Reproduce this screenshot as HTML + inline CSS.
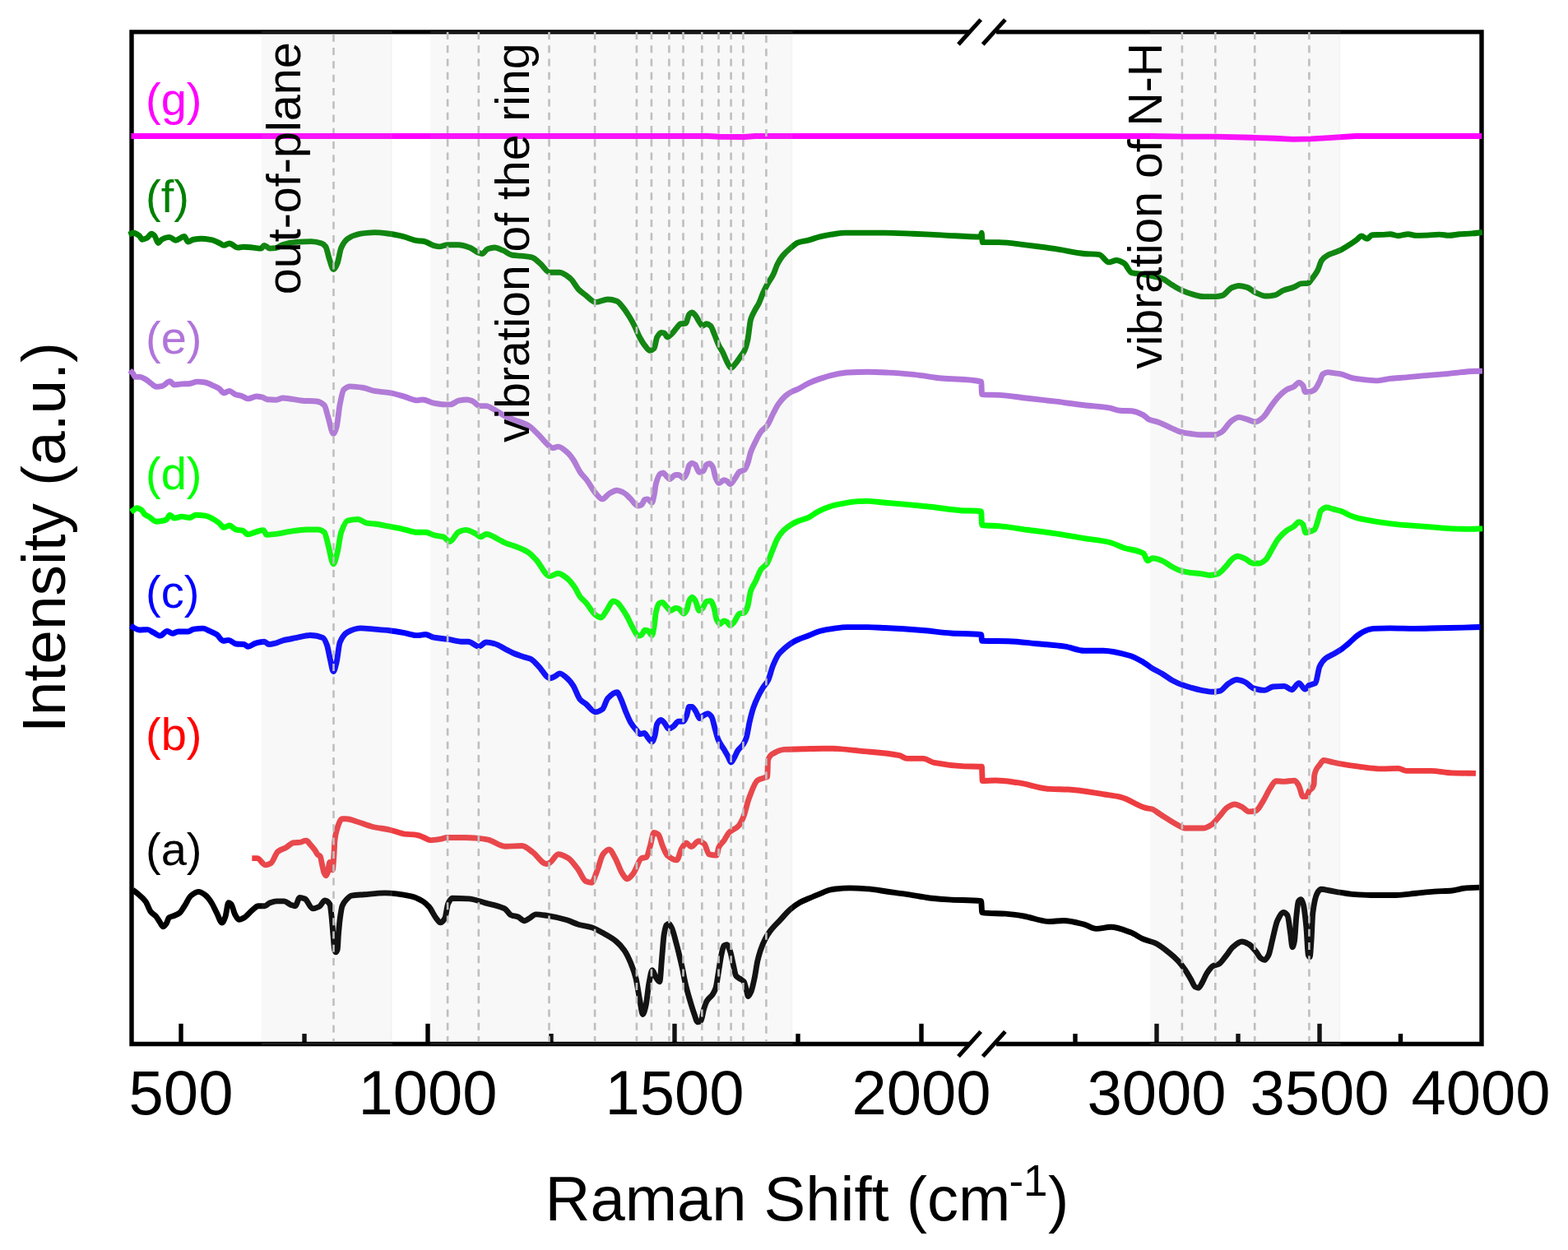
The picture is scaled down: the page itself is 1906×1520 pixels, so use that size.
<!DOCTYPE html><html><head><meta charset="utf-8"><title>Raman spectra</title><style>html,body{margin:0;padding:0;background:#fff;overflow:hidden}svg{display:block}</style></head><body>
<svg width="1906" height="1520" viewBox="0 0 1906 1520">
<rect width="1906" height="1520" fill="#fff"/>
<g stroke="#000" stroke-width="5.4" fill="none">
<polyline points="1179,1269.5 160,1269.5 160,38.9 1179,38.9"/>
<polyline points="1211,38.9 1801,38.9 1801,1269.5 1211,1269.5"/>
</g>
<g stroke="#000" stroke-width="5.4">
<line x1="220" y1="1269" x2="220" y2="1244.8"/>
<line x1="520" y1="1269" x2="520" y2="1244.8"/>
<line x1="820" y1="1269" x2="820" y2="1244.8"/>
<line x1="1120" y1="1269" x2="1120" y2="1244.8"/>
<line x1="1406" y1="1269" x2="1406" y2="1244.8"/>
<line x1="1604" y1="1269" x2="1604" y2="1244.8"/>
<line x1="370.0" y1="1269" x2="370.0" y2="1257"/>
<line x1="670.0" y1="1269" x2="670.0" y2="1257"/>
<line x1="970.0" y1="1269" x2="970.0" y2="1257"/>
<line x1="1307.0" y1="1269" x2="1307.0" y2="1257"/>
<line x1="1505.0" y1="1269" x2="1505.0" y2="1257"/>
<line x1="1702.5" y1="1269" x2="1702.5" y2="1257"/>
</g>
<g fill="none" stroke-width="6.9" stroke-linejoin="round" stroke-linecap="butt">
<path stroke="#008000" d="M156.42,285.11 C158.46,284.48 160.51,283.22 162.56,283.22 C164.76,283.22 166.96,284.89 169.17,286.53 C170.42,287.46 171.68,291.25 172.94,291.25 C174.83,291.25 176.72,290.28 178.61,289.36 C180.50,288.44 182.39,284.17 184.28,284.17 C185.54,284.17 186.79,285.64 188.05,287.00 C189.47,288.53 190.89,295.50 192.30,295.50 C193.72,295.50 195.14,291.95 196.55,291.25 C199.70,289.69 202.85,288.42 206.00,288.42 C208.52,288.42 211.03,292.19 213.55,292.19 C217.01,292.19 220.48,287.47 223.94,287.47 C225.51,287.47 227.09,294.08 228.66,294.08 C230.87,294.08 233.07,291.62 235.27,291.25 C238.42,290.72 241.57,290.30 244.72,290.30 C248.81,290.30 252.90,290.97 256.99,291.72 C260.14,292.30 263.29,294.09 266.44,295.50 C268.33,296.35 270.22,298.33 272.10,298.33 C274.31,298.33 276.51,295.97 278.71,295.97 C282.18,295.97 285.64,301.16 289.10,301.16 C291.62,301.16 294.14,300.22 296.66,300.22 C300.44,300.22 304.21,300.82 307.99,301.16 C311.14,301.45 314.29,302.11 317.43,302.11 C318.69,302.11 319.95,298.33 321.21,298.33 C323.42,298.33 325.62,302.11 327.82,302.11 C330.22,302.11 332.61,301.91 335.00,301.64 C337.96,301.30 340.92,298.40 343.88,297.54 C349.12,296.03 354.37,294.77 359.62,294.40 C365.91,293.95 372.21,293.61 378.50,293.61 C382.70,293.61 386.90,294.55 391.10,295.97 C392.67,296.50 394.24,297.81 395.82,299.91 C397.39,302.00 398.97,311.15 400.54,315.65 C402.11,320.14 403.69,327.45 405.26,327.45 C406.84,327.45 408.41,323.80 409.98,320.37 C411.56,316.93 413.13,304.88 414.71,301.48 C417.33,295.81 419.95,292.20 422.58,290.46 C427.82,286.98 433.07,284.97 438.32,284.17 C443.88,283.31 449.44,282.59 455.00,282.59 C461.19,282.59 467.39,283.49 473.58,284.27 C479.17,284.97 484.77,286.29 490.37,287.63 C495.96,288.97 501.56,291.87 507.16,292.67 C509.95,293.06 512.75,293.07 515.55,293.50 C519.47,294.12 523.39,297.51 527.30,298.54 C529.54,299.13 531.78,299.88 534.02,299.88 C537.38,299.88 540.73,297.70 544.09,297.70 C548.57,297.70 553.05,297.70 557.52,297.70 C562.00,297.70 566.48,299.46 570.95,301.06 C574.31,302.26 577.67,305.55 581.03,306.94 C582.71,307.63 584.39,308.61 586.07,308.61 C588.30,308.61 590.54,303.48 592.78,302.74 C595.58,301.81 598.38,301.06 601.18,301.06 C604.53,301.06 607.89,303.08 611.25,304.42 C615.17,305.98 619.08,309.74 623.00,310.29 C626.36,310.76 629.72,310.80 633.07,311.13 C637.55,311.58 642.03,311.82 646.51,312.81 C649.86,313.56 653.22,317.59 656.58,320.37 C660.50,323.61 664.41,331.28 668.33,331.28 C672.25,331.28 676.17,331.28 680.08,331.28 C684.56,331.28 689.04,335.22 693.52,338.84 C696.87,341.54 700.23,348.93 703.59,352.27 C706.39,355.04 709.19,356.86 711.98,358.98 C715.90,361.95 719.82,367.38 723.74,367.38 C728.77,367.38 733.81,364.02 738.85,364.02 C742.56,364.02 746.28,364.93 750.00,366.25 C752.08,366.99 754.17,370.07 756.25,372.50 C759.17,375.90 762.08,380.32 765.00,385.00 C767.08,388.34 769.17,392.12 771.25,396.25 C773.33,400.38 775.42,406.14 777.50,410.00 C779.58,413.86 781.67,417.44 783.75,420.00 C785.83,422.56 787.92,426.25 790.00,426.25 C791.67,426.25 793.33,425.27 795.00,423.75 C796.25,422.61 797.50,412.21 798.75,410.00 C800.42,407.06 802.08,404.38 803.75,404.38 C805.00,404.38 806.25,404.63 807.50,405.00 C808.75,405.37 810.00,410.00 811.25,410.00 C812.92,410.00 814.58,407.78 816.25,406.25 C818.33,404.34 820.42,401.02 822.50,398.75 C824.17,396.94 825.83,394.06 827.50,393.75 C829.58,393.36 831.67,393.56 833.75,393.12 C835.00,392.86 836.25,383.85 837.50,382.50 C838.75,381.15 840.00,380.00 841.25,380.00 C842.50,380.00 843.75,381.77 845.00,383.12 C846.67,384.93 848.33,388.82 850.00,391.25 C851.25,393.07 852.50,396.25 853.75,396.25 C855.42,396.25 857.08,393.75 858.75,393.75 C860.42,393.75 862.08,394.89 863.75,396.25 C865.42,397.61 867.08,403.55 868.75,407.50 C870.42,411.45 872.08,416.57 873.75,420.00 C875.42,423.43 877.08,425.47 878.75,428.75 C880.42,432.03 882.08,437.00 883.75,440.00 C885.42,443.00 887.08,447.50 888.75,447.50 C890.42,447.50 892.08,444.43 893.75,442.50 C895.83,440.08 897.92,436.77 900.00,433.75 C901.67,431.33 903.33,429.76 905.00,426.25 C906.25,423.62 907.50,419.31 908.75,413.75 C910.00,408.19 911.25,393.06 912.50,388.75 C914.17,383.01 915.83,380.78 917.50,377.50 C919.17,374.22 920.83,372.18 922.50,368.75 C924.17,365.32 925.83,359.95 927.50,356.25 C929.17,352.55 930.83,349.30 932.50,346.25 C935.00,341.68 937.50,338.82 940.00,333.75 C941.67,330.37 943.33,324.53 945.00,321.25 C947.08,317.15 949.17,313.85 951.25,311.25 C954.17,307.61 957.08,305.01 960.00,302.50 C963.33,299.63 966.67,296.20 970.00,295.00 C974.21,293.49 978.42,293.19 982.62,292.10 C987.23,290.90 991.83,289.06 996.44,287.96 C1001.04,286.85 1005.64,285.91 1010.25,285.19 C1015.77,284.34 1021.30,283.12 1026.82,283.12 C1032.35,283.12 1037.87,283.12 1043.40,283.12 C1047.27,283.12 1051.13,283.12 1055.00,283.12 C1061.81,283.12 1068.62,283.08 1075.42,283.08 C1086.97,283.08 1098.51,283.79 1110.05,284.24 C1121.59,284.69 1133.14,285.31 1144.68,285.86 C1160.53,286.61 1176.38,288.16 1192.24,288.16 C1192.54,288.16 1192.85,283.08 1193.16,283.08 C1193.54,283.08 1193.93,294.63 1194.31,294.63 C1200.85,294.63 1207.39,294.63 1213.93,294.63 C1225.48,294.63 1237.02,296.77 1248.56,298.09 C1260.10,299.41 1271.65,301.00 1283.19,302.71 C1294.73,304.42 1306.27,307.48 1317.82,308.48 C1323.97,309.01 1330.13,308.87 1336.29,309.63 C1340.13,310.11 1343.98,318.87 1347.83,318.87 C1350.91,318.87 1353.98,316.56 1357.06,316.56 C1360.14,316.56 1363.22,318.25 1366.30,320.02 C1369.37,321.80 1372.45,330.74 1375.53,331.56 C1380.35,332.85 1385.18,332.79 1390.00,333.59 C1394.20,334.28 1398.39,335.17 1402.59,336.11 C1405.95,336.86 1409.31,337.43 1412.67,338.63 C1416.86,340.12 1421.06,344.30 1425.26,346.81 C1429.03,349.07 1432.81,351.43 1436.59,353.11 C1441.21,355.15 1445.82,356.96 1450.44,358.14 C1454.64,359.22 1458.84,360.66 1463.03,360.66 C1468.07,360.66 1473.11,360.66 1478.14,360.66 C1480.66,360.66 1483.18,360.07 1485.70,359.40 C1489.48,358.40 1493.25,351.53 1497.03,349.96 C1499.97,348.73 1502.91,347.44 1505.84,347.44 C1509.20,347.44 1512.56,348.36 1515.92,349.33 C1519.28,350.30 1522.63,354.10 1525.99,355.62 C1530.19,357.53 1534.39,360.03 1538.58,360.03 C1542.36,360.03 1546.14,359.48 1549.92,358.77 C1553.27,358.14 1556.63,354.43 1559.99,353.11 C1564.19,351.44 1568.38,350.93 1572.58,349.33 C1575.52,348.21 1578.46,345.29 1581.40,344.92 C1584.33,344.55 1587.27,344.74 1590.21,344.29 C1591.47,344.10 1592.73,341.48 1593.99,339.88 C1596.51,336.70 1599.02,333.82 1601.54,329.18 C1603.22,326.09 1604.90,318.76 1606.58,316.59 C1609.10,313.33 1611.62,311.67 1614.13,310.29 C1616.09,309.22 1618.04,308.65 1620.00,307.85 C1623.32,306.49 1626.65,305.46 1629.97,303.86 C1633.29,302.27 1636.61,300.03 1639.94,297.88 C1643.26,295.73 1646.58,293.40 1649.91,290.90 C1651.57,289.65 1653.23,286.92 1654.89,286.92 C1657.22,286.92 1659.54,290.40 1661.87,290.40 C1663.86,290.40 1665.86,285.83 1667.85,285.72 C1671.84,285.50 1675.82,285.57 1679.81,285.42 C1683.13,285.30 1686.46,284.72 1689.78,284.72 C1693.10,284.72 1696.43,286.72 1699.75,286.72 C1703.74,286.72 1707.72,284.72 1711.71,284.72 C1715.03,284.72 1718.36,286.42 1721.68,286.42 C1726.00,286.42 1730.32,286.26 1734.64,286.12 C1739.62,285.95 1744.61,285.12 1749.59,285.12 C1753.58,285.12 1757.57,286.32 1761.55,286.32 C1765.87,286.32 1770.19,285.05 1774.51,284.72 C1779.50,284.35 1784.48,284.30 1789.46,283.92 C1793.62,283.61 1797.77,282.93 1801.93,282.43"/>
<path stroke="#b075da" d="M157.83,450.39 C159.09,451.65 160.35,452.64 161.61,454.17 C162.56,455.31 163.50,458.42 164.44,458.42 C166.33,458.42 168.22,458.42 170.11,458.42 C172.63,458.42 175.15,460.31 177.67,461.72 C179.55,462.78 181.44,464.66 183.33,465.97 C185.54,467.50 187.74,470.22 189.94,470.22 C192.46,470.22 194.98,469.79 197.50,469.28 C200.49,468.66 203.48,463.61 206.47,463.61 C208.20,463.61 209.93,467.86 211.66,467.86 C214.81,467.86 217.96,467.12 221.11,466.92 C224.25,466.71 227.40,466.71 230.55,466.44 C233.70,466.18 236.85,464.08 239.99,464.08 C243.14,464.08 246.29,464.52 249.44,465.03 C252.59,465.53 255.73,467.40 258.88,468.80 C261.40,469.93 263.92,470.93 266.44,472.58 C268.33,473.82 270.22,477.78 272.10,477.78 C274.31,477.78 276.51,475.41 278.71,475.41 C281.23,475.41 283.75,478.79 286.27,479.66 C288.79,480.54 291.31,480.75 293.82,481.55 C296.34,482.35 298.86,484.86 301.38,484.86 C304.84,484.86 308.31,482.03 311.77,482.03 C313.97,482.03 316.18,482.50 318.38,482.97 C320.58,483.44 322.79,485.60 324.99,485.80 C328.33,486.10 331.66,486.27 335.00,486.27 C337.96,486.27 340.92,484.07 343.88,484.07 C351.75,484.07 359.62,486.70 367.49,487.22 C373.26,487.60 379.03,487.48 384.80,488.01 C387.95,488.29 391.10,489.77 394.24,492.73 C395.82,494.21 397.39,502.73 398.97,507.68 C401.07,514.28 403.16,527.36 405.26,527.36 C406.57,527.36 407.89,523.06 409.20,518.70 C410.51,514.34 411.82,498.43 413.13,491.94 C414.71,484.16 416.28,475.33 417.85,473.84 C420.48,471.36 423.10,469.91 425.72,469.91 C430.97,469.91 436.22,470.69 441.46,471.48 C445.98,472.16 450.49,474.63 455.00,475.41 C461.19,476.48 467.39,476.62 473.58,477.63 C479.17,478.54 484.77,480.30 490.37,481.83 C495.96,483.35 501.56,486.86 507.16,486.86 C509.39,486.86 511.63,486.02 513.87,486.02 C518.35,486.02 522.83,489.42 527.30,490.22 C531.78,491.02 536.26,491.90 540.73,491.90 C542.97,491.90 545.21,491.90 547.45,491.90 C550.81,491.90 554.17,487.83 557.52,487.20 C560.88,486.57 564.24,486.02 567.60,486.02 C569.84,486.02 572.07,486.89 574.31,487.70 C577.11,488.72 579.91,493.58 582.71,493.58 C585.51,493.58 588.30,493.58 591.10,493.58 C594.46,493.58 597.82,496.52 601.18,498.28 C605.09,500.33 609.01,503.37 612.93,505.33 C616.85,507.29 620.76,508.74 624.68,510.37 C630.28,512.69 635.87,513.96 641.47,517.08 C645.39,519.27 649.30,523.45 653.22,527.16 C657.70,531.39 662.18,537.88 666.65,541.43 C668.33,542.76 670.01,544.78 671.69,544.78 C673.93,544.78 676.17,543.11 678.41,543.11 C682.32,543.11 686.24,547.24 690.16,550.66 C692.40,552.62 694.63,555.77 696.87,559.06 C699.67,563.16 702.47,570.14 705.27,574.17 C708.07,578.20 710.86,580.52 713.66,584.24 C717.02,588.70 720.38,595.60 723.74,599.35 C726.53,602.47 729.33,606.90 732.13,606.90 C734.93,606.90 737.73,601.73 740.52,600.19 C743.68,598.45 746.84,596.25 750.00,596.25 C752.50,596.25 755.00,597.56 757.50,598.75 C760.42,600.13 763.33,603.56 766.25,606.25 C769.17,608.94 772.08,615.00 775.00,615.00 C776.67,615.00 778.33,614.50 780.00,613.75 C781.25,613.19 782.50,607.88 783.75,607.50 C785.00,607.12 786.25,606.88 787.50,606.88 C789.17,606.88 790.83,611.25 792.50,611.25 C793.33,611.25 794.17,606.18 795.00,602.50 C795.83,598.82 796.67,590.37 797.50,587.50 C799.17,581.76 800.83,577.18 802.50,576.25 C803.75,575.55 805.00,575.00 806.25,575.00 C807.50,575.00 808.75,577.50 810.00,578.75 C811.25,580.00 812.50,582.50 813.75,582.50 C816.25,582.50 818.75,577.50 821.25,577.50 C822.50,577.50 823.75,577.50 825.00,577.50 C826.88,577.50 828.75,581.25 830.62,581.25 C832.08,581.25 833.54,578.08 835.00,575.00 C835.83,573.24 836.67,567.42 837.50,566.25 C838.75,564.50 840.00,563.12 841.25,563.12 C842.50,563.12 843.75,564.04 845.00,565.00 C846.67,566.28 848.33,574.38 850.00,574.38 C851.67,574.38 853.33,573.59 855.00,572.50 C856.25,571.68 857.50,565.71 858.75,565.00 C860.00,564.29 861.25,563.75 862.50,563.75 C863.75,563.75 865.00,565.54 866.25,567.50 C867.50,569.46 868.75,578.39 870.00,581.25 C871.25,584.11 872.50,587.50 873.75,587.50 C875.83,587.50 877.92,583.75 880.00,583.75 C881.25,583.75 882.50,584.38 883.75,585.00 C885.00,585.62 886.25,588.75 887.50,588.75 C889.58,588.75 891.67,584.04 893.75,581.25 C895.42,579.02 897.08,574.83 898.75,573.75 C900.83,572.41 902.92,572.72 905.00,571.25 C906.25,570.37 907.50,566.99 908.75,563.75 C910.00,560.51 911.25,553.53 912.50,550.00 C914.17,545.30 915.83,542.14 917.50,538.75 C920.00,533.66 922.50,528.24 925.00,525.00 C927.50,521.76 930.00,520.83 932.50,517.50 C935.00,514.17 937.50,507.23 940.00,502.50 C942.08,498.56 944.17,494.20 946.25,491.25 C949.17,487.12 952.08,483.69 955.00,481.25 C957.50,479.16 960.00,477.53 962.50,476.25 C965.00,474.97 967.50,474.30 970.00,473.12 C974.21,471.15 978.42,468.09 982.62,466.13 C987.23,463.99 991.83,462.17 996.44,460.61 C1001.96,458.74 1007.49,456.95 1013.01,455.77 C1018.54,454.60 1024.06,453.28 1029.59,453.01 C1038.06,452.59 1046.53,452.32 1055.00,452.32 C1063.35,452.32 1071.69,452.72 1080.04,453.08 C1090.05,453.52 1100.05,454.42 1110.05,455.39 C1121.59,456.51 1133.14,458.78 1144.68,460.01 C1160.69,461.71 1176.69,460.13 1192.70,464.17 C1193.00,464.24 1193.31,479.60 1193.62,479.63 C1200.39,480.29 1207.16,479.99 1213.93,480.33 C1225.48,480.90 1237.02,482.94 1248.56,484.25 C1260.10,485.56 1271.65,486.76 1283.19,488.17 C1294.73,489.59 1306.27,491.48 1317.82,492.79 C1327.82,493.93 1337.82,494.28 1347.83,495.79 C1352.44,496.49 1357.06,498.98 1361.68,499.25 C1366.30,499.53 1370.91,499.44 1375.53,499.72 C1380.35,500.01 1385.18,502.35 1390.00,504.85 C1392.10,505.93 1394.20,508.92 1396.30,509.88 C1400.49,511.81 1404.69,512.15 1408.89,513.66 C1413.92,515.48 1418.96,518.44 1424.00,520.59 C1428.20,522.38 1432.39,524.64 1436.59,525.62 C1440.37,526.51 1444.14,527.04 1447.92,527.51 C1452.12,528.04 1456.32,528.77 1460.51,528.77 C1465.97,528.77 1471.43,528.77 1476.88,528.77 C1479.40,528.77 1481.92,527.09 1484.44,525.62 C1488.64,523.18 1492.83,514.60 1497.03,511.77 C1499.97,509.80 1502.91,507.37 1505.84,507.37 C1509.20,507.37 1512.56,508.95 1515.92,509.88 C1519.28,510.82 1522.63,513.03 1525.99,513.03 C1529.35,513.03 1532.71,509.68 1536.07,506.74 C1539.00,504.16 1541.94,498.12 1544.88,494.14 C1547.82,490.17 1550.76,485.88 1553.69,482.81 C1557.05,479.30 1560.41,475.92 1563.77,474.00 C1566.71,472.32 1569.64,471.89 1572.58,470.22 C1574.68,469.03 1576.78,465.18 1578.88,465.18 C1580.56,465.18 1582.24,466.80 1583.91,468.96 C1584.75,470.04 1585.59,476.52 1586.43,476.52 C1588.11,476.52 1589.79,476.52 1591.47,476.52 C1593.57,476.52 1595.67,475.34 1597.76,474.00 C1599.86,472.65 1601.96,467.97 1604.06,463.92 C1605.32,461.50 1606.58,456.02 1607.84,455.11 C1609.94,453.59 1612.04,452.59 1614.13,452.59 C1616.09,452.59 1618.04,453.14 1620.00,453.43 C1623.32,453.91 1626.65,454.25 1629.97,454.92 C1634.95,455.93 1639.94,458.96 1644.92,459.91 C1649.91,460.85 1654.89,461.42 1659.87,461.90 C1664.19,462.32 1668.51,462.90 1672.83,462.90 C1678.48,462.90 1684.13,460.97 1689.78,460.40 C1696.43,459.74 1703.07,459.48 1709.72,458.91 C1716.36,458.34 1723.01,457.48 1729.65,456.92 C1736.30,456.35 1742.95,455.99 1749.59,455.42 C1756.24,454.85 1762.88,454.09 1769.53,453.43 C1776.17,452.76 1782.82,451.68 1789.46,451.43 C1793.62,451.28 1797.77,451.23 1801.93,451.13"/>
<path stroke="#00ff00" d="M159.25,622.47 C160.35,621.68 161.45,620.85 162.56,620.11 C163.81,619.27 165.07,617.75 166.33,617.75 C168.22,617.75 170.11,618.86 172.00,620.11 C173.26,620.95 174.52,624.24 175.78,625.30 C177.67,626.89 179.55,627.44 181.44,628.61 C184.28,630.36 187.11,634.28 189.94,634.28 C192.46,634.28 194.98,633.79 197.50,633.33 C199.07,633.04 200.65,632.69 202.22,631.92 C203.64,631.21 205.05,626.25 206.47,626.25 C208.20,626.25 209.93,630.03 211.66,630.03 C214.81,630.03 217.96,628.14 221.11,628.14 C224.25,628.14 227.40,629.55 230.55,629.55 C233.07,629.55 235.59,626.25 238.11,626.25 C241.88,626.25 245.66,626.66 249.44,627.19 C252.59,627.64 255.73,629.36 258.88,630.97 C261.40,632.26 263.92,634.17 266.44,636.16 C268.33,637.66 270.22,641.36 272.10,641.36 C274.31,641.36 276.51,639.00 278.71,639.00 C281.55,639.00 284.38,643.61 287.21,644.19 C289.73,644.71 292.25,644.59 294.77,645.14 C296.97,645.61 299.18,649.86 301.38,649.86 C304.84,649.86 308.31,647.45 311.77,646.55 C314.60,645.82 317.43,644.66 320.27,644.66 C321.53,644.66 322.79,650.33 324.05,650.33 C327.70,650.33 331.35,649.80 335.00,649.39 C340.58,648.75 346.16,647.22 351.75,646.43 C358.57,645.47 365.39,644.07 372.21,644.07 C376.93,644.07 381.65,644.07 386.37,644.07 C389.00,644.07 391.62,645.21 394.24,647.22 C395.82,648.42 397.39,657.50 398.97,662.96 C401.07,670.23 403.16,685.78 405.26,685.78 C406.84,685.78 408.41,678.23 409.98,672.40 C411.56,666.58 413.13,651.64 414.71,647.22 C417.33,639.85 419.95,633.71 422.58,633.05 C426.77,632.00 430.97,631.48 435.17,631.48 C438.84,631.48 442.51,635.67 446.19,636.20 C449.12,636.63 452.06,636.65 455.00,636.99 C461.19,637.69 467.39,639.07 473.58,640.22 C479.17,641.26 484.77,642.41 490.37,643.58 C495.96,644.75 501.56,647.27 507.16,647.27 C510.51,647.27 513.87,647.27 517.23,647.27 C521.15,647.27 525.06,650.27 528.98,651.13 C532.34,651.87 535.70,651.86 539.06,652.81 C541.57,653.53 544.09,658.69 546.61,658.69 C550.25,658.69 553.89,648.60 557.52,646.94 C560.32,645.65 563.12,644.42 565.92,644.42 C569.84,644.42 573.75,646.79 577.67,648.61 C579.91,649.66 582.15,652.81 584.39,652.81 C586.62,652.81 588.86,649.45 591.10,649.45 C596.70,649.45 602.29,654.34 607.89,657.01 C610.13,658.08 612.37,659.46 614.61,660.37 C617.96,661.73 621.32,662.45 624.68,663.73 C630.28,665.84 635.87,667.80 641.47,671.28 C644.83,673.37 648.18,677.06 651.54,680.51 C657.14,686.27 662.74,700.66 668.33,700.66 C671.69,700.66 675.05,697.30 678.41,697.30 C682.32,697.30 686.24,700.93 690.16,704.02 C692.96,706.23 695.75,710.08 698.55,714.09 C700.79,717.30 703.03,723.00 705.27,725.84 C707.51,728.69 709.74,730.07 711.98,732.56 C715.90,736.92 719.82,744.96 723.74,747.67 C725.97,749.22 728.21,751.03 730.45,751.03 C732.69,751.03 734.93,745.58 737.17,742.63 C739.97,738.95 742.76,730.88 745.56,730.88 C747.04,730.88 748.52,731.70 750.00,732.50 C752.08,733.63 754.17,737.14 756.25,740.00 C758.33,742.86 760.42,746.30 762.50,750.00 C764.58,753.70 766.67,759.03 768.75,762.50 C771.25,766.67 773.75,773.12 776.25,773.12 C777.50,773.12 778.75,772.56 780.00,771.88 C781.25,771.19 782.50,766.25 783.75,766.25 C785.00,766.25 786.25,766.52 787.50,766.88 C789.17,767.34 790.83,772.50 792.50,772.50 C793.33,772.50 794.17,766.85 795.00,762.50 C795.83,758.15 796.67,747.14 797.50,743.75 C798.75,738.67 800.00,734.49 801.25,733.75 C802.50,733.01 803.75,732.50 805.00,732.50 C806.67,732.50 808.33,735.83 810.00,737.50 C811.67,739.17 813.33,742.50 815.00,742.50 C817.08,742.50 819.17,739.38 821.25,739.38 C822.50,739.38 823.75,739.66 825.00,740.00 C827.08,740.56 829.17,746.25 831.25,746.25 C832.50,746.25 833.75,743.84 835.00,741.25 C835.83,739.53 836.67,732.97 837.50,731.25 C838.75,728.66 840.00,726.25 841.25,726.25 C842.50,726.25 843.75,728.25 845.00,730.00 C846.67,732.33 848.33,742.50 850.00,742.50 C851.25,742.50 852.50,741.18 853.75,740.00 C855.42,738.42 857.08,731.64 858.75,731.25 C860.42,730.86 862.08,730.62 863.75,730.62 C865.00,730.62 866.25,734.28 867.50,737.50 C868.75,740.72 870.00,751.20 871.25,753.75 C872.50,756.30 873.75,758.75 875.00,758.75 C876.67,758.75 878.33,755.00 880.00,755.00 C881.25,755.00 882.50,755.60 883.75,756.25 C885.00,756.90 886.25,760.62 887.50,760.62 C889.17,760.62 890.83,758.12 892.50,756.25 C894.58,753.92 896.67,746.99 898.75,746.25 C900.83,745.51 902.92,745.81 905.00,745.00 C906.25,744.51 907.50,741.07 908.75,737.50 C910.00,733.93 911.25,722.45 912.50,718.75 C914.58,712.58 916.67,710.62 918.75,706.25 C920.83,701.88 922.92,695.40 925.00,692.50 C927.50,689.02 930.00,688.57 932.50,685.00 C934.58,682.02 936.67,675.00 938.75,670.00 C940.83,665.00 942.92,658.60 945.00,655.00 C947.50,650.68 950.00,647.43 952.50,645.00 C955.83,641.76 959.17,639.48 962.50,637.50 C965.00,636.01 967.50,634.79 970.00,633.75 C974.21,632.00 978.42,631.26 982.62,629.36 C986.31,627.71 989.99,624.33 993.67,622.46 C999.20,619.66 1004.72,617.17 1010.25,615.55 C1015.77,613.94 1021.30,612.75 1026.82,611.82 C1032.35,610.90 1037.87,609.83 1043.40,609.61 C1047.27,609.46 1051.13,609.34 1055.00,609.34 C1060.27,609.34 1065.54,610.32 1070.81,610.78 C1080.04,611.58 1089.28,612.25 1098.51,613.08 C1110.05,614.13 1121.59,615.29 1133.14,616.55 C1144.68,617.81 1156.22,619.95 1167.76,620.70 C1176.08,621.25 1184.39,620.75 1192.70,621.86 C1193.00,621.90 1193.31,638.43 1193.62,638.48 C1200.39,639.58 1207.16,639.11 1213.93,639.63 C1225.48,640.52 1237.02,642.71 1248.56,644.25 C1260.10,645.79 1271.65,647.16 1283.19,648.87 C1294.73,650.58 1306.27,652.79 1317.82,654.64 C1327.82,656.24 1337.82,657.00 1347.83,659.25 C1353.98,660.64 1360.14,664.16 1366.30,666.18 C1374.20,668.77 1382.10,668.39 1390.00,673.03 C1391.68,674.02 1393.36,681.85 1395.04,681.85 C1397.14,681.85 1399.23,678.70 1401.33,678.70 C1405.11,678.70 1408.89,680.40 1412.67,681.85 C1416.44,683.29 1420.22,686.81 1424.00,688.77 C1428.20,690.95 1432.39,693.34 1436.59,694.44 C1439.95,695.31 1443.31,695.88 1446.66,696.33 C1450.86,696.88 1455.06,697.06 1459.25,697.59 C1463.03,698.06 1466.81,699.48 1470.59,699.48 C1473.95,699.48 1477.30,698.64 1480.66,697.59 C1484.02,696.54 1487.38,691.65 1490.73,688.14 C1493.25,685.51 1495.77,681.07 1498.29,679.33 C1500.39,677.88 1502.49,676.18 1504.59,676.18 C1507.52,676.18 1510.46,678.05 1513.40,679.33 C1516.76,680.79 1520.12,684.99 1523.47,684.99 C1525.99,684.99 1528.51,684.99 1531.03,684.99 C1533.55,684.99 1536.07,682.76 1538.58,680.59 C1541.10,678.41 1543.62,672.19 1546.14,668.00 C1548.66,663.80 1551.18,658.59 1553.69,655.40 C1557.05,651.16 1560.41,647.76 1563.77,645.33 C1566.71,643.21 1569.64,642.37 1572.58,640.29 C1574.68,638.81 1576.78,634.63 1578.88,634.63 C1580.56,634.63 1582.24,635.92 1583.91,637.78 C1584.96,638.93 1586.01,647.85 1587.06,647.85 C1588.53,647.85 1590.00,647.07 1591.47,646.59 C1593.57,645.90 1595.67,645.58 1597.76,644.07 C1599.44,642.87 1601.12,635.46 1602.80,630.22 C1603.64,627.60 1604.48,622.36 1605.32,621.41 C1607.84,618.55 1610.36,617.00 1612.88,617.00 C1615.25,617.00 1617.63,618.32 1620.00,618.94 C1623.32,619.81 1626.65,620.32 1629.97,621.43 C1633.29,622.54 1636.61,625.05 1639.94,626.42 C1643.26,627.78 1646.58,629.04 1649.91,629.91 C1654.89,631.20 1659.87,631.99 1664.86,632.90 C1669.84,633.80 1674.83,634.67 1679.81,635.39 C1686.46,636.34 1693.10,637.26 1699.75,637.88 C1706.39,638.50 1713.04,638.88 1719.69,639.38 C1726.33,639.87 1732.98,640.36 1739.62,640.87 C1747.93,641.51 1756.24,642.55 1764.54,642.86 C1771.19,643.11 1777.83,643.36 1784.48,643.36 C1790.40,643.36 1796.31,643.03 1802.22,642.86"/>
<path stroke="#0000ff" d="M158.78,760.86 C160.04,761.65 161.30,762.57 162.56,763.22 C164.76,764.36 166.96,766.05 169.17,766.05 C172.63,766.05 176.09,765.58 179.55,765.58 C181.76,765.58 183.96,767.79 186.16,768.89 C189.00,770.30 191.83,773.14 194.66,773.14 C197.50,773.14 200.33,767.47 203.16,767.47 C205.37,767.47 207.57,770.30 209.77,770.30 C211.98,770.30 214.18,767.94 216.39,767.94 C220.48,767.94 224.57,767.94 228.66,767.94 C230.87,767.94 233.07,765.44 235.27,765.11 C239.05,764.55 242.83,764.17 246.61,764.17 C249.12,764.17 251.64,765.93 254.16,767.00 C257.31,768.34 260.46,769.60 263.60,771.72 C266.12,773.42 268.64,779.28 271.16,779.28 C273.36,779.28 275.57,778.33 277.77,778.33 C280.92,778.33 284.07,782.77 287.21,783.05 C290.36,783.34 293.51,783.20 296.66,783.53 C298.23,783.69 299.81,786.36 301.38,786.36 C304.53,786.36 307.68,782.93 310.82,782.11 C314.29,781.21 317.75,780.22 321.21,780.22 C323.10,780.22 324.99,783.53 326.88,783.53 C329.59,783.53 332.29,782.75 335.00,782.11 C337.96,781.41 340.92,779.63 343.88,778.84 C349.12,777.44 354.37,776.69 359.62,775.69 C365.39,774.59 371.16,772.54 376.93,772.54 C382.18,772.54 387.42,773.48 392.67,775.69 C394.24,776.36 395.82,780.22 397.39,784.35 C398.70,787.79 400.02,796.31 401.33,801.66 C402.64,807.01 403.95,816.62 405.26,816.62 C406.57,816.62 407.89,810.06 409.20,804.81 C410.51,799.56 411.82,784.34 413.13,781.20 C416.28,773.68 419.43,770.24 422.58,768.61 C427.82,765.90 433.07,763.89 438.32,763.89 C443.88,763.89 449.44,764.69 455.00,765.15 C461.19,765.65 467.39,766.10 473.58,766.79 C479.17,767.41 484.77,768.35 490.37,769.31 C495.96,770.27 501.56,772.67 507.16,772.67 C510.51,772.67 513.87,771.49 517.23,771.49 C520.59,771.49 523.95,774.55 527.30,775.18 C532.90,776.24 538.50,776.43 544.09,777.20 C550.25,778.05 556.40,780.22 562.56,780.22 C564.80,780.22 567.04,780.22 569.28,780.22 C573.47,780.22 577.67,786.10 581.87,786.10 C584.95,786.10 588.02,781.06 591.10,781.06 C594.46,781.06 597.82,781.93 601.18,782.74 C606.21,783.96 611.25,787.78 616.29,790.29 C619.08,791.69 621.88,793.31 624.68,794.49 C628.60,796.14 632.51,797.42 636.43,798.69 C639.23,799.60 642.03,799.96 644.83,801.21 C648.18,802.70 651.54,807.15 654.90,810.44 C659.38,814.83 663.85,824.71 668.33,824.71 C670.57,824.71 672.81,823.28 675.05,822.19 C676.73,821.38 678.41,818.84 680.08,818.84 C684.00,818.84 687.92,823.43 691.84,827.23 C693.52,828.86 695.19,831.30 696.87,833.95 C699.67,838.35 702.47,847.73 705.27,850.73 C707.51,853.14 709.74,853.99 711.98,855.77 C715.90,858.89 719.82,865.84 723.74,865.84 C726.53,865.84 729.33,864.40 732.13,862.49 C734.37,860.96 736.61,851.37 738.85,849.06 C742.56,845.21 746.28,841.70 750.00,841.70 C751.58,841.70 753.16,846.71 754.74,849.99 C756.71,854.09 758.68,860.68 760.66,865.38 C762.63,870.09 764.60,875.11 766.58,878.41 C768.95,882.37 771.31,885.20 773.68,887.88 C775.26,889.67 776.84,892.62 778.42,892.62 C780.00,892.62 781.58,891.43 783.15,891.43 C784.73,891.43 786.31,895.60 787.89,897.35 C789.47,899.11 791.05,902.09 792.63,902.09 C793.81,902.09 794.99,897.79 796.18,893.80 C796.97,891.14 797.76,882.37 798.55,880.78 C800.13,877.59 801.70,875.45 803.28,875.45 C804.86,875.45 806.44,877.90 808.02,879.59 C809.60,881.28 811.18,886.10 812.76,886.10 C814.73,886.10 816.70,884.46 818.68,883.14 C820.65,881.83 822.62,877.22 824.60,877.22 C826.57,877.22 828.54,877.22 830.52,877.22 C831.90,877.22 833.28,873.39 834.66,870.12 C835.65,867.78 836.63,859.46 837.62,859.46 C838.81,859.46 839.99,859.46 841.17,859.46 C842.75,859.46 844.33,863.08 845.91,865.38 C847.49,867.68 849.07,873.67 850.65,873.67 C851.83,873.67 853.01,871.47 854.20,870.71 C856.17,869.45 858.14,867.75 860.12,867.75 C861.70,867.75 863.28,869.35 864.85,871.30 C866.43,873.25 868.01,882.49 869.59,887.88 C870.78,891.92 871.96,896.99 873.14,899.72 C875.51,905.19 877.88,907.51 880.25,911.56 C881.83,914.26 883.41,916.89 884.98,919.85 C886.17,922.07 887.35,926.95 888.54,926.95 C889.72,926.95 890.90,924.09 892.09,922.22 C893.67,919.72 895.25,915.11 896.82,912.74 C899.19,909.19 901.56,908.28 903.93,904.46 C905.11,902.54 906.30,899.94 907.48,896.17 C908.67,892.40 909.85,883.52 911.03,878.41 C912.61,871.59 914.19,865.30 915.77,860.65 C917.74,854.82 919.72,850.50 921.69,846.44 C923.66,842.38 925.64,838.89 927.61,835.78 C929.58,832.67 931.56,831.26 933.53,827.49 C935.50,823.72 937.48,814.50 939.45,809.73 C941.82,804.01 944.19,798.68 946.56,795.52 C948.92,792.36 951.29,790.46 953.66,788.42 C956.82,785.69 959.97,783.23 963.13,781.31 C965.42,779.93 967.71,778.77 970.00,777.76 C974.21,775.90 978.42,774.64 982.62,773.01 C987.23,771.23 991.83,768.69 996.44,767.49 C1001.96,766.04 1007.49,765.04 1013.01,764.31 C1018.54,763.58 1024.06,762.65 1029.59,762.65 C1038.06,762.65 1046.53,762.65 1055.00,762.65 C1061.81,762.65 1068.62,763.20 1075.42,763.55 C1090.81,764.33 1106.20,765.32 1121.59,766.55 C1133.14,767.47 1144.68,769.30 1156.22,770.01 C1168.38,770.76 1180.54,770.07 1192.70,771.63 C1193.00,771.67 1193.31,779.23 1193.62,779.24 C1204.24,779.69 1214.86,779.45 1225.48,779.71 C1237.02,779.99 1248.56,781.64 1260.10,782.71 C1271.65,783.78 1283.19,784.54 1294.73,786.17 C1302.43,787.26 1310.12,791.25 1317.82,791.25 C1325.51,791.25 1333.21,791.25 1340.90,791.25 C1351.68,791.25 1362.45,794.21 1373.22,797.25 C1378.81,798.83 1384.41,802.17 1390.00,805.40 C1393.36,807.34 1396.72,810.27 1400.07,812.33 C1404.27,814.91 1408.47,816.75 1412.67,819.25 C1416.86,821.76 1421.06,825.21 1425.26,827.44 C1429.45,829.67 1433.65,831.57 1437.85,833.11 C1441.21,834.34 1444.56,835.32 1447.92,836.25 C1452.12,837.42 1456.32,838.61 1460.51,839.40 C1464.71,840.19 1468.91,841.29 1473.11,841.29 C1476.46,841.29 1479.82,840.77 1483.18,840.03 C1486.54,839.30 1489.90,833.25 1493.25,831.22 C1496.61,829.19 1499.97,826.56 1503.33,826.56 C1506.68,826.56 1510.04,827.98 1513.40,829.33 C1516.76,830.68 1520.12,835.87 1523.47,836.88 C1528.09,838.28 1532.71,839.40 1537.32,839.40 C1540.68,839.40 1544.04,835.28 1547.40,834.99 C1552.01,834.60 1556.63,834.37 1561.25,834.37 C1564.19,834.37 1567.12,838.77 1570.06,838.77 C1573.00,838.77 1575.94,830.59 1578.88,830.59 C1581.40,830.59 1583.91,838.14 1586.43,838.14 C1588.11,838.14 1589.79,833.97 1591.47,833.11 C1593.99,831.80 1596.51,832.23 1599.02,830.59 C1600.70,829.49 1602.38,813.91 1604.06,810.44 C1606.58,805.23 1609.10,802.32 1611.62,800.37 C1614.41,798.20 1617.21,797.41 1620.00,795.82 C1623.32,793.93 1626.65,792.12 1629.97,789.84 C1633.29,787.56 1636.61,784.68 1639.94,781.87 C1643.26,779.05 1646.58,775.29 1649.91,772.90 C1653.23,770.50 1656.55,768.09 1659.87,766.92 C1663.20,765.74 1666.52,764.59 1669.84,764.42 C1676.49,764.09 1683.13,763.92 1689.78,763.92 C1699.75,763.92 1709.72,764.42 1719.69,764.42 C1729.65,764.42 1739.62,763.94 1749.59,763.73 C1759.56,763.51 1769.53,763.39 1779.50,763.13 C1786.14,762.95 1792.79,762.66 1799.43,762.43"/>
<path stroke="#ee3c40" d="M306.33,1043.66 C308.43,1043.66 310.53,1043.66 312.63,1043.66 C315.99,1043.66 319.34,1051.85 322.70,1051.85 C324.80,1051.85 326.90,1050.98 329.00,1049.96 C331.94,1048.52 334.87,1037.76 337.81,1035.48 C341.17,1032.87 344.53,1032.33 347.89,1030.44 C350.82,1028.78 353.76,1025.15 356.70,1024.77 C359.64,1024.40 362.58,1024.53 365.51,1024.14 C367.01,1023.95 368.50,1022.60 370.00,1022.40 C370.86,1022.29 371.71,1022.19 372.57,1022.19 C373.85,1022.19 375.13,1024.65 376.42,1026.04 C378.55,1028.35 380.69,1030.78 382.83,1033.74 C384.04,1035.42 385.26,1038.46 386.47,1039.51 C387.39,1040.32 388.32,1040.19 389.25,1041.22 C389.96,1042.02 390.67,1047.58 391.39,1050.63 C392.24,1054.30 393.10,1059.37 393.95,1061.33 C394.66,1062.95 395.38,1064.75 396.09,1064.75 C396.80,1064.75 397.52,1063.03 398.23,1061.33 C399.08,1059.28 399.94,1048.49 400.80,1048.49 C401.94,1048.49 403.08,1057.90 404.22,1057.90 C404.79,1057.90 405.36,1047.91 405.93,1039.94 C406.21,1035.96 406.50,1026.61 406.78,1023.69 C407.35,1017.84 407.92,1014.70 408.49,1012.57 C410.96,1003.36 413.42,995.81 415.88,995.81 C417.56,995.81 419.24,995.81 420.92,995.81 C425.12,995.81 429.31,997.77 433.51,998.96 C439.81,1000.74 446.10,1003.79 452.40,1005.26 C459.53,1006.91 466.67,1007.47 473.80,1009.03 C479.68,1010.33 485.56,1013.32 491.43,1014.07 C496.47,1014.71 501.51,1014.61 506.54,1015.33 C509.48,1015.75 512.42,1017.35 515.36,1018.48 C517.88,1019.45 520.39,1021.63 522.91,1021.63 C526.94,1021.63 530.97,1020.95 535.00,1020.37 C537.83,1019.96 540.67,1018.49 543.50,1018.49 C550.36,1018.49 557.22,1018.49 564.07,1018.49 C569.95,1018.49 575.82,1018.91 581.70,1019.37 C585.62,1019.67 589.53,1020.32 593.45,1021.13 C600.31,1022.56 607.16,1029.21 614.02,1029.21 C620.87,1029.21 627.73,1028.48 634.59,1028.48 C638.99,1028.48 643.40,1033.42 647.81,1036.56 C653.19,1040.39 658.58,1050.51 663.97,1050.51 C665.44,1050.51 666.90,1049.73 668.37,1049.05 C671.80,1047.44 675.23,1038.76 678.66,1038.76 C682.57,1038.76 686.49,1040.97 690.41,1043.17 C694.33,1045.37 698.24,1051.34 702.16,1056.39 C705.59,1060.81 709.02,1070.56 712.44,1071.82 C714.65,1072.62 716.85,1073.28 719.06,1073.28 C721.26,1073.28 723.46,1064.62 725.67,1059.33 C728.11,1053.45 730.56,1041.81 733.01,1038.76 C735.46,1035.71 737.91,1032.89 740.36,1032.89 C742.81,1032.89 745.25,1039.03 747.70,1043.17 C750.64,1048.13 753.58,1058.01 756.52,1062.27 C758.47,1065.11 760.43,1068.88 762.39,1068.88 C764.84,1068.88 767.29,1065.16 769.74,1062.27 C773.16,1058.22 776.58,1044.66 780.00,1043.52 C781.92,1042.87 783.85,1043.11 785.77,1042.36 C787.31,1041.76 788.85,1033.48 790.39,1028.51 C791.93,1023.54 793.47,1012.35 795.01,1012.35 C796.74,1012.35 798.47,1013.34 800.20,1014.66 C801.93,1015.98 803.66,1024.54 805.39,1028.51 C807.32,1032.92 809.24,1038.40 811.16,1040.05 C815.01,1043.35 818.86,1045.82 822.71,1045.82 C824.63,1045.82 826.55,1035.05 828.48,1031.97 C830.40,1028.89 832.33,1025.05 834.25,1025.05 C836.17,1025.05 838.10,1029.66 840.02,1029.66 C843.10,1029.66 846.18,1022.74 849.25,1022.74 C851.56,1022.74 853.87,1024.28 856.18,1026.20 C858.10,1027.80 860.03,1038.41 861.95,1038.90 C865.03,1039.68 868.11,1040.05 871.19,1040.05 C871.96,1040.05 872.72,1032.50 873.49,1030.82 C875.80,1025.78 878.11,1024.95 880.42,1021.58 C882.34,1018.78 884.27,1014.31 886.19,1012.35 C890.04,1008.43 893.89,1008.35 897.73,1004.27 C899.66,1002.23 901.58,998.34 903.50,993.88 C905.81,988.53 908.12,976.86 910.43,970.80 C913.89,961.71 917.36,951.04 920.82,948.87 C923.90,946.93 926.97,946.60 930.05,945.40 C931.01,945.03 931.98,945.22 932.94,944.25 C933.13,944.06 933.32,925.21 933.52,924.63 C936.21,916.47 938.90,916.88 941.59,915.39 C945.44,913.27 949.29,911.55 953.14,911.35 C960.83,910.96 968.53,910.97 976.22,910.78 C984.15,910.58 992.07,910.20 1000.00,910.20 C1004.01,910.20 1008.02,910.23 1012.04,910.27 C1023.05,910.38 1034.07,912.06 1045.09,913.14 C1061.25,914.71 1077.41,915.30 1093.57,918.65 C1096.51,919.25 1099.44,922.39 1102.38,922.39 C1108.99,922.39 1115.60,922.39 1122.21,922.39 C1126.62,922.39 1131.03,926.59 1135.44,927.46 C1147.92,929.92 1160.41,931.44 1172.90,931.87 C1179.73,932.10 1186.56,931.89 1193.39,932.31 C1193.68,932.33 1193.98,949.50 1194.27,949.50 C1199.63,949.50 1204.99,949.06 1210.36,949.06 C1219.17,949.06 1227.99,950.56 1236.80,951.70 C1250.02,953.41 1263.24,958.77 1276.46,959.41 C1283.81,959.77 1291.15,959.74 1298.50,960.07 C1313.19,960.75 1327.88,963.80 1342.57,966.02 C1349.18,967.02 1355.79,967.79 1362.40,969.33 C1372.69,971.72 1382.97,980.20 1393.25,982.55 C1395.50,983.06 1397.75,983.14 1400.00,983.74 C1403.36,984.62 1406.72,987.96 1410.07,990.03 C1418.05,994.95 1426.02,1000.82 1434.00,1004.51 C1436.10,1005.48 1438.20,1007.03 1440.29,1007.03 C1447.85,1007.03 1455.40,1007.03 1462.96,1007.03 C1466.32,1007.03 1469.67,1004.73 1473.03,1002.62 C1475.97,1000.78 1478.91,996.40 1481.85,993.18 C1485.20,989.50 1488.56,983.91 1491.92,981.85 C1494.86,980.04 1497.80,978.07 1500.73,978.07 C1503.67,978.07 1506.61,979.87 1509.55,981.22 C1512.49,982.57 1515.42,986.88 1518.36,986.88 C1520.88,986.88 1523.40,986.63 1525.92,986.25 C1529.28,985.75 1532.63,978.21 1535.99,973.03 C1538.51,969.15 1541.03,962.93 1543.55,959.18 C1546.07,955.44 1548.58,949.74 1551.10,949.74 C1554.04,949.74 1556.98,950.37 1559.92,950.37 C1564.53,950.37 1569.15,949.11 1573.77,949.11 C1575.45,949.11 1577.12,952.56 1578.80,955.40 C1580.48,958.25 1582.16,968.63 1583.84,968.63 C1585.10,968.63 1586.36,968.63 1587.62,968.63 C1588.88,968.63 1590.14,963.66 1591.40,961.70 C1593.28,958.75 1595.17,960.23 1597.06,954.14 C1597.27,953.47 1597.48,943.78 1597.69,942.81 C1599.79,933.15 1601.89,933.21 1603.99,930.22 C1605.67,927.83 1607.35,924.55 1609.02,924.55 C1612.68,924.55 1616.34,926.16 1620.00,926.92 C1623.32,927.60 1626.65,928.33 1629.97,928.91 C1636.61,930.07 1643.26,931.09 1649.91,931.90 C1659.87,933.11 1669.84,934.89 1679.81,934.89 C1686.46,934.89 1693.10,934.39 1699.75,934.39 C1703.07,934.39 1706.39,937.38 1709.72,937.38 C1719.69,937.38 1729.65,937.38 1739.62,937.38 C1747.93,937.38 1756.24,939.63 1764.54,939.87 C1774.35,940.16 1784.15,940.21 1793.95,940.37"/>
<path stroke="#000000" d="M161.30,1082.04 C163.39,1083.61 165.49,1084.98 167.59,1086.76 C170.74,1089.43 173.89,1091.91 177.04,1096.20 C179.13,1099.06 181.23,1106.24 183.33,1108.79 C185.43,1111.35 187.53,1111.95 189.63,1114.30 C191.20,1116.06 192.78,1119.11 194.35,1121.39 C195.66,1123.28 196.97,1126.89 198.28,1126.89 C199.60,1126.89 200.91,1124.80 202.22,1122.96 C203.27,1121.49 204.32,1116.61 205.37,1115.88 C207.47,1114.41 209.56,1114.41 211.66,1113.52 C213.76,1112.62 215.86,1111.91 217.96,1110.37 C220.06,1108.83 222.16,1104.81 224.25,1101.71 C226.88,1097.84 229.50,1091.15 232.12,1089.12 C235.27,1086.68 238.42,1084.40 241.57,1084.40 C244.19,1084.40 246.82,1086.49 249.44,1088.33 C251.54,1089.81 253.64,1092.48 255.73,1095.41 C258.36,1099.09 260.98,1105.42 263.60,1110.37 C265.70,1114.33 267.80,1122.17 269.90,1122.17 C271.21,1122.17 272.52,1118.44 273.84,1115.09 C275.15,1111.74 276.46,1097.78 277.77,1097.78 C278.82,1097.78 279.87,1098.50 280.92,1099.35 C282.49,1100.62 284.07,1109.14 285.64,1111.94 C287.21,1114.74 288.79,1118.24 290.36,1118.24 C292.46,1118.24 294.56,1116.96 296.66,1115.88 C299.81,1114.25 302.95,1109.71 306.10,1107.22 C308.73,1105.15 311.35,1101.71 313.97,1101.71 C316.59,1101.71 319.22,1101.71 321.84,1101.71 C323.94,1101.71 326.04,1098.52 328.14,1097.78 C330.76,1096.85 333.38,1095.89 336.01,1095.89 C339.16,1095.89 342.30,1095.89 345.45,1095.89 C348.07,1095.89 350.70,1099.17 353.32,1100.14 C355.16,1100.81 356.99,1101.71 358.83,1101.71 C360.67,1101.71 362.50,1091.48 364.34,1091.48 C366.44,1091.48 368.54,1092.22 370.63,1093.05 C373.78,1094.31 376.93,1104.86 380.08,1104.86 C382.70,1104.86 385.33,1103.74 387.95,1102.50 C390.30,1101.39 392.65,1095.00 395.00,1095.00 C396.97,1095.00 398.95,1096.44 400.92,1099.61 C401.58,1100.66 402.24,1107.18 402.89,1112.76 C403.55,1118.35 404.21,1128.70 404.87,1135.79 C405.53,1142.87 406.18,1153.65 406.84,1155.53 C407.28,1156.77 407.72,1157.83 408.16,1157.83 C408.82,1157.83 409.47,1156.76 410.13,1154.87 C410.57,1153.61 411.01,1141.05 411.45,1135.79 C412.11,1127.91 412.76,1120.79 413.42,1116.05 C414.30,1109.74 415.18,1103.79 416.05,1101.58 C417.81,1097.16 419.56,1095.49 421.32,1093.68 C423.29,1091.65 425.26,1089.43 427.24,1089.08 C432.28,1088.19 437.32,1088.16 442.37,1087.76 C450.88,1087.09 459.40,1085.92 467.91,1085.92 C478.54,1085.92 489.18,1087.69 499.81,1089.91 C504.46,1090.88 509.12,1093.12 513.77,1095.89 C516.43,1097.47 519.08,1099.84 521.74,1102.86 C524.40,1105.89 527.06,1112.43 529.72,1115.82 C531.58,1118.20 533.44,1121.80 535.30,1121.80 C537.09,1121.80 538.89,1119.67 540.68,1116.82 C542.01,1114.71 543.34,1101.65 544.67,1098.88 C546.33,1095.42 547.99,1092.30 549.65,1092.30 C556.30,1092.30 562.95,1092.54 569.59,1092.90 C576.24,1093.25 582.88,1096.10 589.53,1097.88 C597.50,1100.02 605.48,1100.89 613.45,1104.86 C616.11,1106.18 618.77,1111.77 621.43,1112.83 C624.09,1113.90 626.74,1113.88 629.40,1114.83 C632.06,1115.78 634.72,1119.81 637.38,1119.81 C639.37,1119.81 641.36,1117.92 643.36,1116.82 C646.02,1115.35 648.67,1111.84 651.33,1111.84 C655.98,1111.84 660.64,1112.75 665.29,1113.43 C673.26,1114.61 681.24,1116.49 689.21,1118.81 C693.86,1120.17 698.52,1122.87 703.17,1124.20 C708.49,1125.72 713.80,1126.14 719.12,1127.79 C724.44,1129.44 729.75,1132.76 735.07,1135.76 C739.72,1138.38 744.37,1140.90 749.02,1144.73 C752.35,1147.47 755.67,1150.93 758.99,1155.70 C761.65,1159.51 764.31,1165.21 766.97,1171.65 C768.96,1176.48 770.95,1181.73 772.95,1189.59 C774.61,1196.14 776.27,1209.05 777.93,1217.50 C779.06,1223.25 780.19,1233.45 781.32,1233.45 C782.52,1233.45 783.71,1228.21 784.91,1223.48 C786.24,1218.24 787.57,1202.34 788.90,1195.57 C790.23,1188.81 791.56,1179.62 792.89,1179.62 C794.21,1179.62 795.54,1185.55 796.87,1187.60 C798.51,1190.12 800.14,1193.68 801.78,1193.68 C802.76,1193.68 803.75,1173.45 804.74,1162.89 C805.53,1154.44 806.32,1141.55 807.10,1136.84 C808.09,1130.95 809.08,1126.03 810.07,1125.00 C811.05,1123.97 812.04,1123.22 813.03,1123.22 C814.21,1123.22 815.39,1126.16 816.58,1128.55 C818.55,1132.53 820.52,1141.38 822.50,1148.68 C823.68,1153.06 824.87,1157.96 826.05,1162.89 C827.24,1167.82 828.42,1172.79 829.60,1178.28 C830.79,1183.78 831.97,1190.94 833.16,1196.04 C834.73,1202.86 836.31,1208.34 837.89,1213.81 C839.87,1220.64 841.84,1227.35 843.81,1232.75 C845.19,1236.54 846.58,1242.82 847.96,1242.82 C849.34,1242.82 850.72,1242.13 852.10,1241.04 C853.29,1240.11 854.47,1230.62 855.65,1226.83 C856.84,1223.04 858.02,1219.37 859.21,1217.36 C861.57,1213.34 863.94,1212.67 866.31,1209.07 C867.50,1207.27 868.68,1205.47 869.86,1201.97 C871.05,1198.46 872.23,1188.74 873.42,1181.84 C874.60,1174.93 875.78,1165.81 876.97,1160.52 C877.96,1156.11 878.94,1150.48 879.93,1149.86 C881.11,1149.12 882.30,1148.68 883.48,1148.68 C884.86,1148.68 886.24,1153.15 887.63,1156.97 C888.81,1160.24 889.99,1167.44 891.18,1172.36 C892.36,1177.29 893.55,1185.03 894.73,1186.57 C896.31,1188.63 897.89,1188.94 899.47,1190.12 C901.05,1191.31 902.62,1191.66 904.20,1193.68 C905.19,1194.94 906.18,1199.85 907.16,1203.15 C907.95,1205.79 908.74,1211.44 909.53,1211.44 C910.72,1211.44 911.90,1208.28 913.08,1205.52 C914.47,1202.30 915.85,1195.45 917.23,1188.94 C918.41,1183.36 919.60,1174.08 920.78,1168.81 C921.97,1163.54 923.15,1159.28 924.33,1155.78 C926.31,1149.96 928.28,1145.36 930.25,1141.57 C932.23,1137.79 934.20,1134.73 936.18,1132.10 C940.12,1126.85 944.07,1123.31 948.02,1119.08 C952.36,1114.42 956.70,1109.15 961.04,1105.46 C964.59,1102.44 968.15,1099.76 971.70,1097.76 C976.04,1095.32 980.38,1093.73 984.72,1091.84 C989.46,1089.78 994.20,1087.85 998.93,1085.92 C1002.17,1084.60 1005.41,1082.56 1008.65,1082.04 C1016.73,1080.72 1024.81,1079.83 1032.89,1079.83 C1040.23,1079.83 1047.58,1080.40 1054.92,1080.93 C1063.00,1081.52 1071.08,1083.14 1079.16,1084.24 C1087.24,1085.34 1095.32,1086.33 1103.40,1087.54 C1112.21,1088.86 1121.03,1090.97 1129.84,1091.95 C1138.66,1092.93 1147.47,1093.65 1156.29,1094.16 C1168.41,1094.85 1180.52,1094.21 1192.64,1095.70 C1193.01,1095.74 1193.38,1109.52 1193.75,1109.58 C1203.29,1111.06 1212.84,1110.38 1222.39,1111.12 C1229.74,1111.69 1237.08,1112.81 1244.43,1113.99 C1254.71,1115.63 1264.99,1120.60 1275.28,1120.60 C1281.15,1120.60 1287.03,1119.50 1292.91,1119.50 C1300.99,1119.50 1309.07,1121.91 1317.15,1123.90 C1322.29,1125.17 1327.43,1129.41 1332.57,1129.41 C1338.45,1129.41 1344.32,1127.21 1350.20,1127.21 C1358.28,1127.21 1366.36,1130.84 1374.44,1133.82 C1379.63,1135.73 1384.81,1139.94 1390.00,1142.06 C1394.83,1144.03 1399.65,1144.72 1404.48,1146.88 C1409.71,1149.23 1414.94,1153.63 1420.17,1157.74 C1424.19,1160.91 1428.21,1164.30 1432.24,1168.60 C1435.05,1171.62 1437.87,1175.36 1440.68,1179.46 C1443.10,1182.98 1445.51,1187.40 1447.92,1191.53 C1449.53,1194.28 1451.14,1199.20 1452.75,1199.98 C1454.16,1200.66 1455.56,1201.19 1456.97,1201.19 C1458.38,1201.19 1459.79,1197.48 1461.20,1195.15 C1463.21,1191.83 1465.22,1186.07 1467.23,1183.08 C1469.64,1179.50 1472.06,1175.89 1474.47,1174.64 C1476.88,1173.39 1479.30,1173.45 1481.71,1172.22 C1484.53,1170.79 1487.34,1165.98 1490.16,1162.57 C1492.97,1159.16 1495.79,1154.08 1498.60,1151.71 C1502.22,1148.67 1505.84,1145.07 1509.46,1145.07 C1512.28,1145.07 1515.10,1146.61 1517.91,1148.09 C1520.73,1149.57 1523.54,1153.22 1526.36,1156.54 C1528.37,1158.91 1530.38,1163.53 1532.39,1164.98 C1534.00,1166.15 1535.61,1167.40 1537.22,1167.40 C1538.83,1167.40 1540.44,1164.43 1542.05,1161.36 C1543.66,1158.30 1545.26,1148.33 1546.87,1142.06 C1548.88,1134.21 1550.90,1123.16 1552.91,1119.13 C1555.32,1114.29 1557.73,1109.48 1560.15,1109.48 C1561.76,1109.48 1563.36,1110.87 1564.97,1113.10 C1566.18,1114.77 1567.39,1126.98 1568.59,1134.82 C1569.40,1140.04 1570.20,1151.71 1571.01,1151.71 C1571.81,1151.71 1572.62,1148.36 1573.42,1144.47 C1574.23,1140.58 1575.03,1121.84 1575.83,1114.30 C1576.64,1106.76 1577.44,1097.40 1578.25,1096.20 C1579.25,1094.70 1580.26,1093.79 1581.26,1093.79 C1582.27,1093.79 1583.28,1096.69 1584.28,1099.82 C1585.49,1103.58 1586.69,1115.38 1587.90,1127.58 C1588.71,1135.70 1589.51,1159.48 1590.31,1161.36 C1590.92,1162.78 1591.52,1163.78 1592.12,1163.78 C1592.73,1163.78 1593.33,1152.66 1593.93,1144.47 C1594.54,1136.28 1595.14,1115.59 1595.75,1110.68 C1597.53,1096.15 1599.32,1089.44 1601.10,1086.27 C1602.57,1083.67 1604.04,1081.32 1605.51,1081.32 C1609.18,1081.32 1612.85,1082.37 1616.53,1082.97 C1620.57,1083.63 1624.61,1084.52 1628.65,1085.17 C1633.79,1086.00 1638.93,1086.98 1644.07,1087.38 C1651.42,1087.94 1658.76,1088.48 1666.11,1088.48 C1676.39,1088.48 1686.67,1088.48 1696.96,1088.48 C1705.04,1088.48 1713.12,1087.05 1721.20,1086.27 C1728.54,1085.57 1735.89,1084.56 1743.23,1084.07 C1750.58,1083.58 1757.92,1083.57 1765.27,1082.97 C1770.78,1082.52 1776.29,1080.30 1781.79,1079.88 C1787.30,1079.47 1792.81,1079.37 1798.32,1079.11"/>
</g>
<g stroke="#c0c0c0" stroke-width="2.6" stroke-dasharray="9 7.28">
<line x1="405.5" y1="41.8" x2="405.5" y2="1267"/>
<line x1="544.1" y1="39.0" x2="544.1" y2="1267"/>
<line x1="581.8" y1="39.0" x2="581.8" y2="1267"/>
<line x1="667.5" y1="39.0" x2="667.5" y2="1267"/>
<line x1="723.1" y1="39.0" x2="723.1" y2="1267"/>
<line x1="773.9" y1="39.0" x2="773.9" y2="1267"/>
<line x1="791.9" y1="39.0" x2="791.9" y2="1267"/>
<line x1="813.4" y1="39.0" x2="813.4" y2="1267"/>
<line x1="830.5" y1="39.0" x2="830.5" y2="1267"/>
<line x1="853.3" y1="39.0" x2="853.3" y2="1267"/>
<line x1="873.5" y1="39.0" x2="873.5" y2="1267"/>
<line x1="888.6" y1="39.0" x2="888.6" y2="1267"/>
<line x1="903.4" y1="39.0" x2="903.4" y2="1267"/>
<line x1="1436.9" y1="39.0" x2="1436.9" y2="1267"/>
<line x1="1477.3" y1="39.0" x2="1477.3" y2="1267"/>
<line x1="1525.2" y1="39.0" x2="1525.2" y2="1267"/>
<line x1="1591.4" y1="39.0" x2="1591.4" y2="1267"/>
</g>
<polyline fill="none" stroke-width="6.9" stroke-linejoin="round" stroke="#ff00ff" points="159.5,165.5 860.0,165.5 875.0,166.3 905.0,166.5 918.0,165.5 1400.0,165.5 1443.0,166.1 1477.4,166.1 1520.5,167.2 1550.6,168.3 1572.1,169.4 1593.6,168.9 1615.1,167.6 1647.4,165.5 1801.2,165.5"/>
<line x1="931.4" y1="43" x2="931.4" y2="1267" stroke="#c0c0c0" stroke-width="2.6" stroke-dasharray="9 7.28"/>
<rect x="318.0" y="43.3" width="159.0" height="1222.3" fill="rgb(184,184,184)" fill-opacity="0.1"/>
<rect x="318.0" y="38.3" width="159.0" height="1.6" fill="rgb(184,184,184)" fill-opacity="0.2"/>
<rect x="318.0" y="1268.3" width="159.0" height="1.8" fill="rgb(184,184,184)" fill-opacity="0.2"/>
<rect x="475.0" y="43.3" width="1" height="1222.3" fill="rgb(184,184,184)" fill-opacity="0.09"/>
<rect x="523.2" y="43.3" width="440.3" height="1222.3" fill="rgb(184,184,184)" fill-opacity="0.1"/>
<rect x="523.2" y="38.3" width="440.3" height="1.6" fill="rgb(184,184,184)" fill-opacity="0.2"/>
<rect x="523.2" y="1268.3" width="440.3" height="1.8" fill="rgb(184,184,184)" fill-opacity="0.2"/>
<rect x="961.5" y="43.3" width="1" height="1222.3" fill="rgb(184,184,184)" fill-opacity="0.09"/>
<rect x="1398.0" y="43.3" width="231.5" height="1222.3" fill="rgb(184,184,184)" fill-opacity="0.1"/>
<rect x="1398.0" y="38.3" width="231.5" height="1.6" fill="rgb(184,184,184)" fill-opacity="0.2"/>
<rect x="1398.0" y="1268.3" width="231.5" height="1.8" fill="rgb(184,184,184)" fill-opacity="0.2"/>
<rect x="1627.5" y="43.3" width="1" height="1222.3" fill="rgb(184,184,184)" fill-opacity="0.09"/>
<g stroke="#000" stroke-width="5.0">
<line x1="1165.0" y1="54.0" x2="1192.2" y2="23.8"/>
<line x1="1165.0" y1="1284.6" x2="1192.2" y2="1254.4"/>
<line x1="1194.7" y1="54.0" x2="1221.9" y2="23.8"/>
<line x1="1194.7" y1="1284.6" x2="1221.9" y2="1254.4"/>
</g>
<g font-family="Liberation Sans, Arial, sans-serif" font-size="76" text-anchor="middle" fill="#000">
<text x="220.0" y="1355">500</text>
<text x="520.0" y="1355">1000</text>
<text x="820.0" y="1355">1500</text>
<text x="1120.0" y="1355">2000</text>
<text x="1406.0" y="1355">3000</text>
<text x="1604.0" y="1355">3500</text>
<text x="1800.0" y="1355">4000</text>
</g>
<text font-family="Liberation Sans, Arial, sans-serif" font-size="75" transform="translate(78.75,891.2) rotate(-90)">Intensity (a.u.)</text>
<text font-family="Liberation Sans, Arial, sans-serif" font-size="76" y="1483.6"><tspan x="662.5">Raman Shift (cm</tspan><tspan x="1226.5" y="1454" font-size="53">-</tspan><tspan x="1244" y="1454" font-size="53">1</tspan><tspan x="1274" y="1483.6">)</tspan></text>
<g font-family="Liberation Sans, Arial, sans-serif" font-size="57.5" text-anchor="end" fill="#000">
<text transform="translate(364.9,51.35) rotate(-90)">out-of-plane</text>
<text font-size="57.1" transform="translate(642.9,52.5) rotate(-90)">vibration of the ring</text>
<text font-size="57.1" transform="translate(1412.2,52.1) rotate(-90)">vibration of N-H</text>
</g>
<g font-family="Liberation Sans, Arial, sans-serif" font-size="56">
<text x="177" y="139.5" fill="#ff00ff">(g)</text>
<text x="177" y="257.5" fill="#008000">(f)</text>
<text x="177" y="430.0" fill="#b075da">(e)</text>
<text x="177" y="595.0" fill="#00ff00">(d)</text>
<text x="177" y="738.8" fill="#0000ff">(c)</text>
<text x="177" y="912.4" fill="#ff0000">(b)</text>
<text x="177" y="1051.7" fill="#000000">(a)</text>
</g>
</svg></body></html>
